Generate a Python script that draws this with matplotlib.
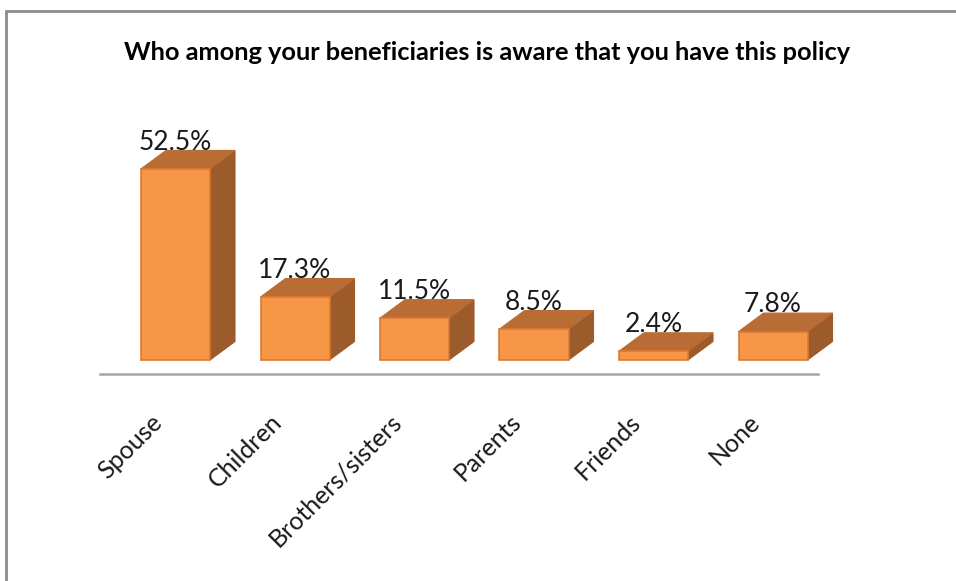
import matplotlib
matplotlib.use("Agg")
import matplotlib.pyplot as plt
from matplotlib.patches import Polygon, Rectangle

categories = ["Spouse", "Children", "Brothers/sisters", "Parents", "Friends", "None"]
values = [52.5, 17.3, 11.5, 8.5, 2.4, 7.8]
labels = ["52.5%", "17.3%", "11.5%", "8.5%", "2.4%", "7.8%"]
title = "Who among your beneficiaries is aware that you have this policy"

W, H = 956, 581
fig = plt.figure(figsize=(W / 100, H / 100), dpi=100)

# axes placement in pixels
ax_l, ax_r, ax_t, ax_b = 100, 818, 100, 374
ax = fig.add_axes([ax_l / W, 1 - ax_b / H, (ax_r - ax_l) / W, (ax_b - ax_t) / H])
px_per_cat = 119.5
px_per_val = 3.64
x0_pix = 175.5  # pixel of category 0 centre
ax.set_xlim((ax_l - x0_pix) / px_per_cat, (ax_r - x0_pix) / px_per_cat)
ax.set_ylim((360 - ax_b) / px_per_val, (360 - ax_t) / px_per_val)

front_c = "#F79646"
top_c = "#B96C34"
side_c = "#9C5B2A"
edge_c = "#D97A33"

bw = 69 / px_per_cat
dx = 25 / px_per_cat
dy = 18.5 / px_per_val

for i, v in enumerate(values):
    l = i - bw / 2
    r = i + bw / 2
    side = Polygon([(r, 0), (r + dx, dy), (r + dx, v + dy), (r, v)], closed=True,
                   facecolor=side_c, edgecolor=side_c, lw=0.8, clip_on=False)
    top = Polygon([(l, v), (r, v), (r + dx, v + dy), (l + dx, v + dy)], closed=True,
                  facecolor=top_c, edgecolor=top_c, lw=0.8, clip_on=False)
    front = Rectangle((l, 0), bw, v, facecolor=front_c, edgecolor=edge_c, lw=1.2,
                      clip_on=False)
    ax.add_patch(side)
    ax.add_patch(top)
    ax.add_patch(front)
    ax.text(i, v + dy + 0.2, labels[i], ha="center", va="baseline",
            fontsize=19, family="Lato", color="#1a1a1a")

for s in ["top", "right", "left"]:
    ax.spines[s].set_visible(False)
ax.spines["bottom"].set_color("#a6a6a6")
ax.spines["bottom"].set_linewidth(1.8)
ax.set_yticks([])
ax.set_xticks([])

for i, c in enumerate(categories):
    ax.text(i - 17 / px_per_cat, (360 - 418) / px_per_val, c, rotation=45,
            rotation_mode="anchor", ha="right", va="center", fontsize=18,
            family="Lato", color="#1a1a1a", clip_on=False)

fig.text(487 / W, 1 - 52 / H, title, ha="center", va="center", fontsize=18.3,
         fontweight="bold", family="Lato", color="#000000")

border = Rectangle((6 / W, -0.1), 1.2, 1 - 11 / H + 0.1, transform=fig.transFigure,
                   fill=False, edgecolor="#8c8c8c", lw=2)
fig.patches.append(border)

fig.savefig("out.png", dpi=100)
